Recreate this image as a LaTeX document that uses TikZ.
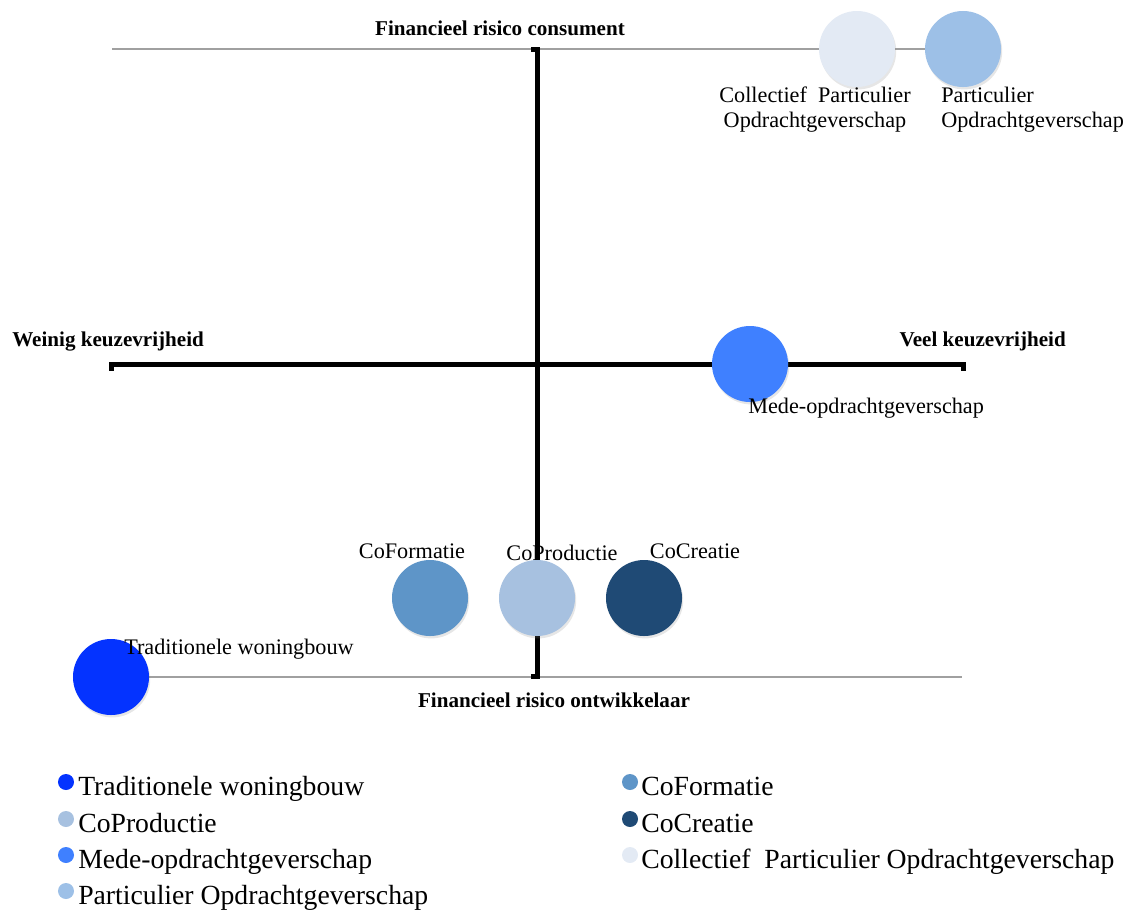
\documentclass[tikz,border=0pt]{standalone}
\usepackage{fontspec}
\setmainfont{Liberation Serif}
\usetikzlibrary{shadows}

\definecolor{tradblue}{HTML}{0433FF}
\definecolor{formblue}{HTML}{5E95C8}
\definecolor{prodblue}{HTML}{A7C1E0}
\definecolor{creablue}{HTML}{1F4A75}
\definecolor{medeblue}{HTML}{3F80FF}
\definecolor{partblue}{HTML}{9DC0E7}
\definecolor{collblue}{HTML}{E3EAF4}
\definecolor{guidegray}{HTML}{A0A0A0}

\tikzset{
  bubble/.style={circle, minimum size=1.9cm, inner sep=0pt, fill=#1,
    drop shadow={shadow xshift=0.03cm, shadow yshift=-0.06cm, opacity=0.2}},
  axis/.style={line width=0.125cm},
  guide/.style={line width=0.05cm, guidegray},
  axislabel/.style={font=\bfseries\fontsize{15}{18}\selectfont, inner sep=0pt},
  bubblelabel/.style={font=\fontsize{15.8}{17.8}\selectfont, inner sep=0pt},
  legendtext/.style={font=\fontsize{19.7}{23}\selectfont, inner sep=0pt, anchor=base west},
  legenddot/.style={circle, minimum size=0.4cm, inner sep=0pt, fill=#1}
}

\begin{document}
\begin{tikzpicture}[x=0.025cm, y=-0.025cm]
  \useasboundingbox (0,0) rectangle (1131,910);

  % Guide lines
  \coordinate (topleft) at (112,49);
  \coordinate (topright) at (963,49);
  \coordinate (botleft) at (111,677);
  \coordinate (botright) at (962,677);
  \draw [guide] (topleft) -- (topright);
  \draw [guide] (botleft) -- (botright);

  % Axes
  \coordinate (vtop) at (537,49);
  \coordinate (vbot) at (537,676);
  \coordinate (hleft) at (111,364);
  \coordinate (hright) at (963,364);
  \draw [axis] ([xshift=-0.15cm]vtop) -- (vtop) -- (vbot) -- ([xshift=-0.15cm]vbot);
  \draw [axis] ([yshift=-0.17cm]hleft) -- (hleft) -- (hright) -- ([yshift=-0.17cm]hright);

  % Axis labels
  \node [axislabel] (consument) at (500,28) {Financieel risico consument};
  \node [axislabel] (ontwikkelaar) at (554,700) {Financieel risico ontwikkelaar};
  \node [axislabel, anchor=west] (weinig) at (12,341) {Weinig keuzevrijheid};
  \node [axislabel, anchor=east] (veel) at (1066,341) {Veel keuzevrijheid};

  % Bubbles
  \node [bubble=collblue] (coll) at (857,49) {};
  \node [bubble=partblue] (part) at (topright) {};
  \node [bubble=medeblue] (mede) at (750,364) {};
  \node [bubble=formblue] (form) at (430,598) {};
  \node [bubble=prodblue] (prod) at (537,598) {};
  \node [bubble=creablue] (crea) at (644,598) {};
  \node [bubble=tradblue] (trad) at (botleft) {};

  % Bubble labels
  \node [bubblelabel, align=center] (colllabel) at (815,110) {Collectief\ \ Particulier\\Opdrachtgeverschap};
  \node [bubblelabel, align=left, anchor=west] (partlabel) at (941,110) {Particulier\\Opdrachtgeverschap};
  \node [bubblelabel, anchor=west] (medelabel) at (748,408) {Mede-opdrachtgeverschap};
  \node [bubblelabel] (formlabel) at (412,551) {CoFormatie};
  \node [bubblelabel] (prodlabel) at (562,553) {CoProductie};
  \node [bubblelabel] (crealabel) at (695,551) {CoCreatie};
  \node [bubblelabel, anchor=west] (tradlabel) at (124,649) {Traditionele woningbouw};

  % Legend, left column
  \node [legenddot=tradblue] (ltraddot) at (66,782) {};
  \node [legendtext] (ltrad) at (78,795) {Traditionele woningbouw};
  \node [legenddot=prodblue] (lproddot) at (66,819) {};
  \node [legendtext] (lprod) at (78,832) {CoProductie};
  \node [legenddot=medeblue] (lmededot) at (66,855) {};
  \node [legendtext] (lmede) at (78,868) {Mede-opdrachtgeverschap};
  \node [legenddot=partblue] (lpartdot) at (66,891) {};
  \node [legendtext] (lpart) at (78,904) {Particulier Opdrachtgeverschap};

  % Legend, right column
  \node [legenddot=formblue] (lformdot) at (630,782) {};
  \node [legendtext] (lform) at (641,795) {CoFormatie};
  \node [legenddot=creablue] (lcreadot) at (630,819) {};
  \node [legendtext] (lcrea) at (641,832) {CoCreatie};
  \node [legenddot=collblue] (lcolldot) at (630,855) {};
  \node [legendtext] (lcoll) at (641,868) {Collectief\ \ Particulier Opdrachtgeverschap};
\end{tikzpicture}
\end{document}
